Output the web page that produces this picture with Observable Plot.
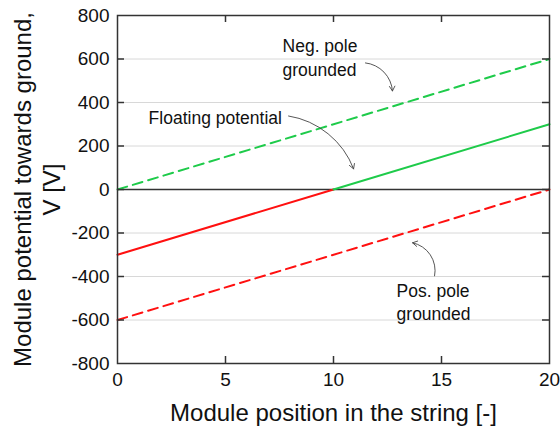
<!DOCTYPE html>
<html>
<head>
<meta charset="utf-8">
<script src="https://cdn.jsdelivr.net/npm/d3@7"></script>
<script src="https://cdn.jsdelivr.net/npm/@observablehq/plot@0.6"></script>
<style>
  html, body { margin: 0; padding: 0; background: #fff; }
</style>
</head>
<body>
<div id="chart"></div>
<script>
// ---- data ----
const floatingRedX = [0, 10];
const floatingRedY = [-300, 0];
const floatingGreenX = [10, 20];
const floatingGreenY = [0, 300];
const negPoleX = [0, 20];
const negPoleY = [0, 600];
const posPoleX = [0, 20];
const posPoleY = [-600, 0];

const xTickValues = [0, 5, 10, 15, 20];
const xInnerTicks = [5, 10, 15];
const yTickValues = [-800, -600, -400, -200, 0, 200, 400, 600, 800];
const yInnerTicks = [-600, -400, -200, 0, 200, 400, 600];
const gridValues = [-600, -400, -200, 200, 400, 600];

const labelTexts = ["Floating potential", "Neg. pole\ngrounded", "Pos. pole\ngrounded"];
const labelX = [1.44, 7.64, 12.92];
const labelY = [338, 612, -512];

const arrowX1 = [7.92, 11.48, 14.68];
const arrowY1 = [338, 582, -397];
const arrowX2 = [10.93, 12.73, 13.66];
const arrowY2 = [95, 453, -245];
const arrowBend = [30, 40, -45];

const xAxisLabel = "Module position in the string [-]";
const yAxisLabel = "Module potential towards ground,\nV [V]";

// ---- build tables ----
const toPts = (xs, ys) => xs.map((x, i) => ({x, y: ys[i]}));
const labels = labelTexts.map((t, i) => ({t, x: labelX[i], y: labelY[i]}));
const arrows = arrowX1.map((x1, i) => ({x1, y1: arrowY1[i], x2: arrowX2[i], y2: arrowY2[i]}));

const green = "#1ecb4a";
const red = "#ff1010";
const frameW = 560 - 117 - 11;
const frameH = 430 - 15 - 67;

const chart = Plot.plot({
  width: 560,
  height: 430,
  marginLeft: 117,
  marginRight: 11,
  marginTop: 15,
  marginBottom: 67,
  style: {fontFamily: "'Liberation Sans', Arial, sans-serif", background: "white", color: "#111"},
  x: {domain: [0, 20]},
  y: {domain: [-800, 800]},
  marks: [
    Plot.gridY(gridValues, {stroke: "#d8d8d8", strokeOpacity: 1, strokeWidth: 1}),
    Plot.ruleY([0], {stroke: "#333", strokeWidth: 1.5}),
    Plot.line(toPts(negPoleX, negPoleY), {x: "x", y: "y", stroke: green, strokeWidth: 2, strokeDasharray: "10,6"}),
    Plot.line(toPts(posPoleX, posPoleY), {x: "x", y: "y", stroke: red, strokeWidth: 2, strokeDasharray: "10,6"}),
    Plot.line(toPts(floatingRedX, floatingRedY), {x: "x", y: "y", stroke: red, strokeWidth: 2}),
    Plot.line(toPts(floatingGreenX, floatingGreenY), {x: "x", y: "y", stroke: green, strokeWidth: 2}),
    // tick labels
    Plot.axisX(xTickValues, {anchor: "bottom", tickSize: 0, tickPadding: 9, fontSize: 19, label: null, tickFormat: d => String(d)}),
    Plot.axisY(yTickValues, {anchor: "left", tickSize: 0, tickPadding: 8, fontSize: 19, label: null, tickFormat: d => String(d)}),
    // inward ticks
    Plot.tickX(xInnerTicks, {stroke: "#333", strokeWidth: 1.5, insetTop: frameH - 7}),
    Plot.tickX(xInnerTicks, {stroke: "#333", strokeWidth: 1.5, insetBottom: frameH - 7}),
    Plot.tickY(yInnerTicks, {stroke: "#333", strokeWidth: 1.5, insetRight: frameW - 7}),
    Plot.tickY(yInnerTicks, {stroke: "#333", strokeWidth: 1.5, insetLeft: frameW - 7}),
    Plot.frame({stroke: "#333", strokeWidth: 1.5}),
    // axis titles
    Plot.text([xAxisLabel], {frameAnchor: "bottom", dy: 50, fontSize: 24, lineAnchor: "middle", textAnchor: "middle", fill: "#111"}),
    Plot.text([yAxisLabel], {frameAnchor: "left", dx: -81, rotate: -90, fontSize: 24, lineAnchor: "middle", textAnchor: "middle", lineHeight: 1.17, fill: "#111"}),
    // annotations
    Plot.text(labels, {x: "x", y: "y", text: "t", textAnchor: "start", fontSize: 17.5, lineHeight: 1.35, lineAnchor: "middle", fill: "#111"}),
    ...arrows.map((a, i) => Plot.arrow([a], {x1: "x1", y1: "y1", x2: "x2", y2: "y2", bend: arrowBend[i], stroke: "#444", strokeWidth: 0.9, headLength: 9}))
  ]
});
document.getElementById("chart").appendChild(chart);
</script>
</body>
</html>
